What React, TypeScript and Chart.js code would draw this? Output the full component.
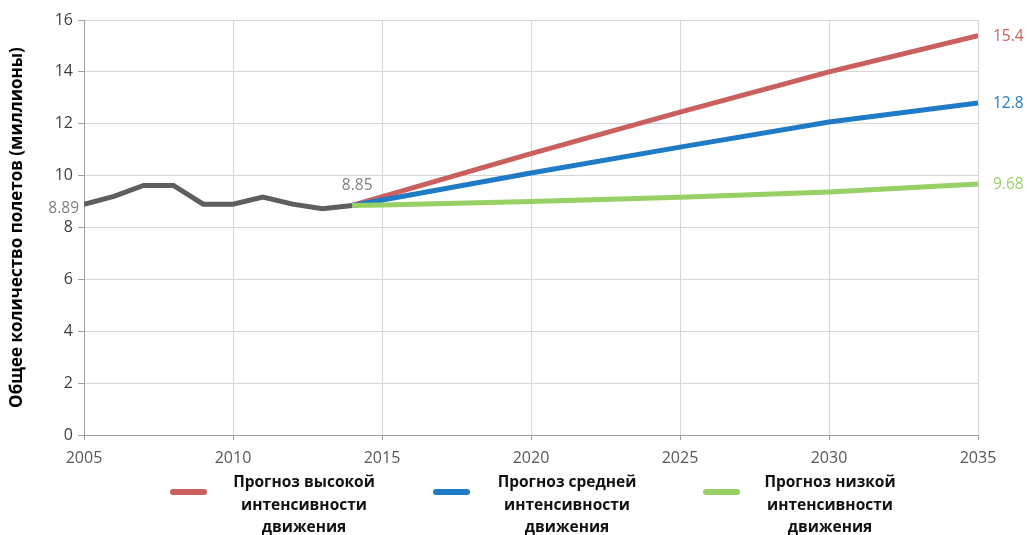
import { useEffect, useRef } from 'react';
import { Chart, registerables } from 'chart.js';
Chart.register(...registerables);

const HIST_YEARS = [2005, 2006, 2007, 2008, 2009, 2010, 2011, 2012, 2013, 2014];
const HIST_VALUES = [8.89, 9.2, 9.62, 9.62, 8.9, 8.9, 9.17, 8.9, 8.72, 8.85];

const FC_YEARS = [2014, 2020, 2025, 2030, 2035];
const HIGH_VALUES = [8.85, 10.85, 12.45, 14.0, 15.4];
const MID_VALUES = [8.85, 10.1, 11.1, 12.07, 12.8];
const LOW_YEARS = [2014, 2015, 2020, 2025, 2030, 2035];
const LOW_VALUES = [8.85, 8.87, 9.0, 9.17, 9.37, 9.68];

const SERIES_NAMES = [
  ['Прогноз высокой', 'интенсивности', 'движения'],
  ['Прогноз средней', 'интенсивности', 'движения'],
  ['Прогноз низкой', 'интенсивности', 'движения'],
];
const END_LABELS = ['15.4', '12.8', '9.68'];
const HIST_START_LABEL = '8.89';
const HIST_END_LABEL = '8.85';
const Y_TITLE = 'Общее количество полетов (миллионы)';

const RED = '#c9605d';
const BLUE = '#1f7bc6';
const GREEN = '#97d065';
const GRAY = '#5e5e5e';

const pts = (xs: number[], ys: number[]) => xs.map((x, i) => ({ x, y: ys[i] }));

export default function App() {
  const ref = useRef<HTMLCanvasElement>(null);
  useEffect(() => {
    if (!ref.current) return;
    const labelPlugin = {
      id: 'labels',
      afterDraw(chart: any) {
        const ctx = chart.ctx;
        const xs = chart.scales.x;
        const ys = chart.scales.y;
        ctx.save();
        ctx.font = '15.5px "Open Sans"';
        ctx.textBaseline = 'middle';
        ctx.fillStyle = '#808080';
        ctx.textAlign = 'right';
        ctx.fillText(HIST_START_LABEL, xs.getPixelForValue(HIST_YEARS[0]) - 5, ys.getPixelForValue(HIST_VALUES[0]) + 4);
        ctx.textAlign = 'center';
        const lastI = HIST_YEARS.length - 1;
        ctx.fillText(HIST_END_LABEL, xs.getPixelForValue(HIST_YEARS[lastI]) + 5, ys.getPixelForValue(HIST_VALUES[lastI]) - 20);
        const ends = [HIGH_VALUES[HIGH_VALUES.length - 1], MID_VALUES[MID_VALUES.length - 1], LOW_VALUES[LOW_VALUES.length - 1]];
        const cols = [RED, BLUE, GREEN];
        ctx.textAlign = 'left';
        ends.forEach((v, i) => {
          ctx.fillStyle = cols[i];
          ctx.fillText(END_LABELS[i], chart.chartArea.right + 15, ys.getPixelForValue(v) + 1);
        });
        // legend
        const swX = [170, 433, 703];
        const txX = [304, 567, 830];
        const lineY = [483, 506, 528];
        ctx.lineCap = 'round';
        ctx.lineWidth = 6;
        cols.forEach((c, i) => {
          ctx.strokeStyle = c;
          ctx.beginPath();
          ctx.moveTo(swX[i] + 3, 492);
          ctx.lineTo(swX[i] + 34, 492);
          ctx.stroke();
          ctx.fillStyle = '#111';
          ctx.font = 'bold 15.5px "Open Sans"';
          ctx.textAlign = 'center';
          SERIES_NAMES[i].forEach((t, j) => ctx.fillText(t, txX[i], lineY[j]));
        });
        ctx.restore();
      },
    };
    const chart = new Chart(ref.current, {
      type: 'line',
      data: {
        datasets: [
          { data: pts(LOW_YEARS, LOW_VALUES), borderColor: GREEN, borderWidth: 5, pointRadius: 0, tension: 0 },
          { data: pts(FC_YEARS, MID_VALUES), borderColor: BLUE, borderWidth: 5, pointRadius: 0, tension: 0 },
          { data: pts(FC_YEARS, HIGH_VALUES), borderColor: RED, borderWidth: 5, pointRadius: 0, tension: 0 },
          { data: pts(HIST_YEARS, HIST_VALUES), borderColor: GRAY, borderWidth: 5, pointRadius: 0, tension: 0 },
        ],
      },
      options: {
        responsive: false,
        animation: false,
        events: [],
        layout: { padding: { top: 20, right: 49, left: 0, bottom: 0 } },
        plugins: { legend: { display: false }, tooltip: { enabled: false } },
        scales: {
          x: {
            type: 'linear',
            min: 2005,
            max: 2035,
            afterFit: (s: any) => { s.height = 100; },
            ticks: { stepSize: 5, callback: (v: any) => String(v), font: { family: '"Open Sans"', size: 16 }, color: '#595959', padding: 9, maxRotation: 0 },
            grid: { color: '#d6d6d6', tickLength: 5, tickColor: '#a0a0a0' },
            border: { color: '#a0a0a0' },
          },
          y: {
            min: 0,
            max: 16,
            afterFit: (s: any) => { s.width = 84; },
            ticks: { stepSize: 2, font: { family: '"Open Sans"', size: 16 }, color: '#3f3f3f', padding: 5 },
            grid: { color: '#d6d6d6', tickLength: 6, tickColor: '#a0a0a0' },
            border: { color: '#a0a0a0' },
            title: { display: true, text: Y_TITLE, color: '#000', font: { family: '"Open Sans"', size: 17, weight: 'bold' }, padding: { top: 7, bottom: 0 } },
          },
        },
      } as any,
      plugins: [labelPlugin],
    });
    return () => chart.destroy();
  }, []);
  return (
    <div style={{ position: 'fixed', left: 0, top: 0, width: 1027, height: 535, background: '#fff' }}>
      <canvas ref={ref} width={1027} height={535} style={{ display: 'block' }} />
    </div>
  );
}
